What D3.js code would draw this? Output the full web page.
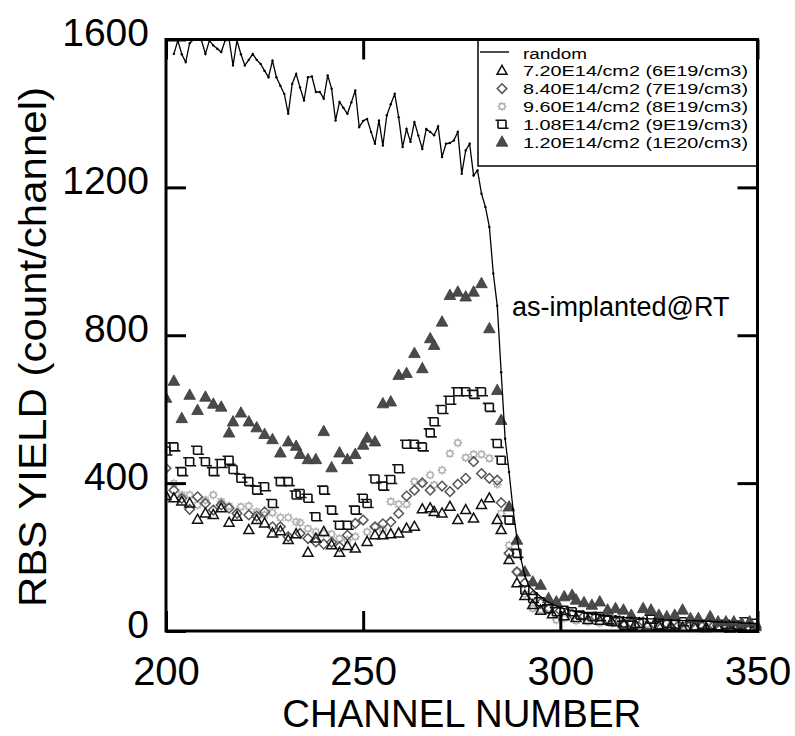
<!DOCTYPE html>
<html>
<head>
<meta charset="utf-8">
<script src="https://cdn.jsdelivr.net/npm/d3@7"></script>
<style>
  body { margin: 0; background: #fff; }
  svg { display: block; font-family: "Liberation Sans", Arial, sans-serif; }
</style>
</head>
<body>
<svg id="chart" width="795" height="736"></svg>
<script>
// ---- RBS spectra: yield (count/channel) vs channel number ----

// random (non-channeled) spectrum
const randomCh = [
  202,203,204,205,206,207,208,209,210,211,212,213,214,215,216,217,218,219,220,221,
  222,223,224,225,226,227,228,229,230,231,232,233,234,235,236,237,238,239,240,241,
  242,243,244,245,246,247,248,249,250,251,252,253,254,255,256,257,258,259,260,261,
  262,263,264,265,266,267,268,269,270,271,272,273,274,275,276,277,278,279,280,281,
  282,283,284,285,286,287,288,289,290,291,292,294,296,298,300,302,304,306,308,310,
  312,314,316,318,320,322,324,326,328,330,332,334,336,338,340,342,344,346,348,350
];
const randomVal = [
  1561,1597,1560,1539,1590,1600,1600,1598,1561,1597,1584,1575,1566,1597,1600,1530,1597,1560,1530,1545,
  1561,1545,1534,1515,1498,1543,1498,1475,1453,1399,1480,1507,1470,1435,1498,1500,1458,1458,1440,1503,
  1467,1381,1431,1415,1399,1430,1462,1363,1380,1385,1350,1318,1381,1313,1395,1425,1453,1390,1309,1358,
  1323,1377,1340,1304,1358,1350,1341,1365,1282,1318,1320,1327,1350,1237,1300,1318,1232,1246,1183,1147,
  1093,967,880,700,520,430,330,250,195,150,122,102,84,72,63,58,52,50,46,44,
  41,40,37,36,35,33,33,31,30,29,28,28,27,26,25,24,24,22,21,20
];

// 7.20E14/cm2 (6E19/cm3)
const s1Ch = [200,202,204,206,208,210,212,214,216,218,221,223,225,227,229,231,233,236,238,240,
  242,244,246,248,251,253,255,257,259,261,263,265,267,268,270,272,274,276,278,280,
  282,284,285,287,289,291,293,295,298,301,304,307,310,313,316,319,322,325,328,331,
  334,337,340,343,346,349];
const s1Val = [365,359,350,345,301,318,314,332,293,309,273,300,291,264,270,246,262,212,250,268,
  232,212,230,223,241,259,259,262,264,277,282,329,332,322,318,336,300,327,304,341,
  359,300,273,192,129,95,70,55,45,40,35,30,28,25,20,18,15,14,12,10,
  12,8,10,7,8,6];

// 8.40E14/cm2 (7E19/cm3)
const s2Ch = [200,202,204,206,208,210,212,214,216,218,221,223,225,227,229,231,234,236,238,240,
  242,244,246,248,250,253,255,257,259,261,263,265,267,270,272,274,276,278,280,282,
  284,285,287,289,291,293,295,297,300,303,306,309,312,315,318,321,324,327,330,333,
  336,339,342,345,348];
const s2Val = [440,381,359,329,363,345,327,341,332,318,314,311,322,282,282,255,264,250,241,235,
  240,228,259,291,300,282,290,295,318,365,381,401,381,392,377,397,413,458,426,413,
  408,347,210,160,130,95,75,60,55,45,40,38,32,28,22,25,18,20,15,18,
  12,15,10,12,8];

// 9.60E14/cm2 (8E19/cm3)
const s3Ch = [200,202,204,206,208,210,212,214,216,219,221,223,225,227,229,231,233,234,236,238,
  240,242,244,246,248,251,253,255,257,259,261,263,265,267,268,270,272,274,276,278,
  280,282,284,285,287,289,291,293,295,297,299,301,304,307,310,313,316,319,322,325,
  328,331,334,337,340,343,346,349];
const s3Val = [363,399,368,368,341,354,368,350,338,336,338,322,314,320,307,307,295,293,277,268,
  264,262,250,246,255,268,282,275,350,343,343,404,399,422,395,435,480,509,469,478,
  478,467,397,318,232,160,100,61,57,61,30,35,28,25,22,20,18,15,18,14,
  12,15,10,12,9,10,8,10];

// 1.08E14/cm2 (9E19/cm3)
const s4Ch = [200,202,204,206,208,210,212,214,216,217,219,221,223,225,227,229,231,233,234,236,
  238,240,242,244,246,248,250,251,253,255,257,259,261,263,265,267,268,270,272,274,
  276,278,280,282,284,285,287,289,291,293,295,297,299,301,303,305,308,310,312,314,
  316,318,320,323,325,327,329,331,334,336,338,340,342,345,347,349];
const s4Val = [487,498,431,458,489,458,431,453,462,437,413,404,381,390,345,404,404,368,372,359,
  309,381,327,286,286,327,359,345,411,392,410,439,505,505,498,536,566,599,624,647,
  647,640,647,605,507,462,300,210,111,88,79,60,52,56,52,43,39,39,30,25,
  16,16,21,32,16,20,18,25,12,18,16,14,18,16,25,21];

// 1.20E14/cm2 (1E20/cm3)
const s5Ch = [200,202,204,206,208,210,212,214,216,217,219,221,223,225,227,229,231,233,234,236,
  238,240,242,244,246,248,250,251,253,255,257,259,261,263,265,267,268,270,272,274,
  276,278,280,282,284,285,287,289,291,293,295,297,299,301,303,304,306,308,310,312,
  314,316,318,321,323,325,327,329,331,333,335,338,340,342,344,346,348,350];
const s5Val = [630,676,575,638,597,633,614,606,536,566,590,566,550,532,518,482,512,500,478,464,
  464,540,442,482,464,478,503,522,512,615,620,692,697,751,710,791,773,836,908,917,
  904,917,940,818,651,570,336,246,160,133,124,88,79,93,97,84,77,70,79,57,
  61,57,43,61,57,43,39,43,57,34,34,39,25,25,25,21,25,12];

const xTicks = [200, 250, 300, 350];
const yTicks = [0, 400, 800, 1200, 1600];
const legendLabels = [
  "random",
  "7.20E14/cm2 (6E19/cm3)",
  "8.40E14/cm2 (7E19/cm3)",
  "9.60E14/cm2 (8E19/cm3)",
  "1.08E14/cm2 (9E19/cm3)",
  "1.20E14/cm2 (1E20/cm3)"
];
const xTitle = "CHANNEL NUMBER";
const yTitle = "RBS YIELD (count/channel)";
const note = "as-implanted@RT";

// ---- layout ----
const svg = d3.select("#chart");
const x = d3.scaleLinear().domain([200, 350]).range([166, 757.5]);
const y = d3.scaleLinear().domain([0, 1600]).range([631, 39.5]);
const [x0, x1] = x.range();
const [y0, y1] = y.range();

// ---- marker shapes ----
const shapes = {
  triOpen:  "M0,-5.5L5,3.5L-5,3.5Z",
  diamond:  "M0,-4.8L4.8,0L0,4.8L-4.8,0Z",
  cog: (() => {
    const pts = d3.range(16).map(i => {
      const a = i * Math.PI / 8, r = i % 2 ? 2.6 : 3.8;
      return [r * Math.sin(a), -r * Math.cos(a)];
    });
    return "M" + pts.map(p => p.join(",")).join("L") + "Z";
  })(),
  tailSquare: "M-6.5,-4H4M-4,-4V4M4,-4V4M-4,4H6.5",
  triFilled: "M0,-6.2L5.8,4.2L-5.8,4.2Z"
};
const styles = {
  triOpen:    { fill: "none", stroke: "#111", sw: 1.5 },
  diamond:    { fill: "none", stroke: "#555", sw: 1.5 },
  cog:        { fill: "none", stroke: "#b3b3b3", sw: 1.4 },
  tailSquare: { fill: "none", stroke: "#111", sw: 1.6 },
  triFilled:  { fill: "#4a4a4a", stroke: "#3a3a3a", sw: 0.8 }
};

// ---- clip to plot area ----
svg.append("defs").append("clipPath").attr("id", "plot")
  .append("rect").attr("x", x0).attr("y", y1 - 2)
  .attr("width", x1 - x0 + 4).attr("height", y0 - y1 + 4);

const plot = svg.append("g").attr("clip-path", "url(#plot)");

function drawSeries(ch, val, shape) {
  const st = styles[shape];
  plot.append("g").selectAll("path")
    .data(ch.map((c, i) => [c, val[i]]))
    .join("path")
    .attr("transform", d => `translate(${x(d[0])},${y(d[1])})`)
    .attr("d", shapes[shape])
    .attr("fill", st.fill)
    .attr("stroke", st.stroke)
    .attr("stroke-width", st.sw)
    .attr("stroke-linejoin", "miter");
}

drawSeries(s3Ch, s3Val, "cog");
drawSeries(s2Ch, s2Val, "diamond");
drawSeries(s1Ch, s1Val, "triOpen");
drawSeries(s4Ch, s4Val, "tailSquare");
drawSeries(s5Ch, s5Val, "triFilled");

// random spectrum: thin line with small point marks
const randomPts = randomCh.map((c, i) => [c, randomVal[i]]);
plot.append("path")
  .datum(randomPts)
  .attr("fill", "none")
  .attr("stroke", "#000")
  .attr("stroke-width", 1.3)
  .attr("d", d3.line().x(d => x(d[0])).y(d => y(d[1])));
plot.append("g").selectAll("circle")
  .data(randomPts)
  .join("circle")
  .attr("cx", d => x(d[0])).attr("cy", d => y(d[1]))
  .attr("r", 1.2).attr("fill", "#000");

// ---- axes (ticks point inward on all four sides) ----
const tickLen = 20;
const fmt = d3.format("d");
function styleAxis(g) {
  g.select(".domain").remove();
  g.selectAll(".tick line").attr("stroke", "#000").attr("stroke-width", 3);
}

svg.append("g")
  .attr("transform", `translate(0,${y0})`)
  .call(d3.axisBottom(x).tickValues(xTicks).tickFormat(fmt).tickSize(-tickLen).tickSizeOuter(0))
  .call(styleAxis)
  .call(g => g.selectAll("text")
    .attr("font-family", "Liberation Sans, Arial, sans-serif")
    .attr("font-size", 40).attr("fill", "#000")
    .attr("y", 54).attr("dy", 0));

svg.append("g")
  .attr("transform", `translate(${x0},0)`)
  .call(d3.axisLeft(y).tickValues(yTicks).tickFormat(fmt).tickSize(-tickLen).tickSizeOuter(0))
  .call(styleAxis)
  .call(g => g.selectAll("text")
    .attr("font-family", "Liberation Sans, Arial, sans-serif")
    .attr("font-size", 39).attr("fill", "#000")
    .attr("x", -17).attr("dy", 6));

svg.append("g")
  .attr("transform", `translate(0,${y1})`)
  .call(d3.axisTop(x).tickValues(xTicks).tickSize(-tickLen).tickFormat(""))
  .call(styleAxis);

svg.append("g")
  .attr("transform", `translate(${x1},0)`)
  .call(d3.axisRight(y).tickValues(yTicks).tickSize(-tickLen).tickFormat(""))
  .call(styleAxis);

// ---- legend ----
const lg = svg.append("g");
lg.append("rect")
  .attr("x", 478).attr("y", y1).attr("width", x1 - 478).attr("height", 166 - y1)
  .attr("fill", "#fff").attr("stroke", "#000").attr("stroke-width", 1.5);

const legendShapes = [null, "triOpen", "diamond", "cog", "tailSquare", "triFilled"];
const rowBase = 58.5, rowStep = 17.8;
const legendFont = 15.4;
let stretch = 1;
legendLabels.forEach((lab, i) => {
  const base = rowBase + i * rowStep;
  const cy = base - 5.5;
  if (i === 0) {
    lg.append("line").attr("x1", 480).attr("x2", 509)
      .attr("y1", cy - 1).attr("y2", cy - 1)
      .attr("stroke", "#000").attr("stroke-width", 1.4);
  } else {
    const st = styles[legendShapes[i]];
    lg.append("path")
      .attr("transform", `translate(502,${cy})`)
      .attr("d", shapes[legendShapes[i]])
      .attr("fill", st.fill).attr("stroke", st.stroke).attr("stroke-width", st.sw);
  }
  const t = lg.append("text")
    .attr("x", 523).attr("y", base)
    .attr("font-size", legendFont).attr("fill", "#000")
    .text(lab);
  const w = t.node().getComputedTextLength();
  if (i === 1) stretch = 225 / w;
  if (i >= 1) t.attr("textLength", w * stretch).attr("lengthAdjust", "spacingAndGlyphs");
  else t.attr("textLength", 64).attr("lengthAdjust", "spacingAndGlyphs");
});

// frame drawn over everything
svg.append("rect")
  .attr("x", x0).attr("y", y1).attr("width", x1 - x0).attr("height", y0 - y1)
  .attr("fill", "none").attr("stroke", "#000").attr("stroke-width", 3);

// ---- annotation and titles ----
svg.append("text")
  .attr("x", 512).attr("y", 316)
  .attr("font-size", 27).attr("fill", "#000")
  .text(note);

svg.append("text")
  .attr("x", (x0 + x1) / 2).attr("y", 727)
  .attr("text-anchor", "middle")
  .attr("font-size", 38).attr("fill", "#000")
  .attr("textLength", 359).attr("lengthAdjust", "spacingAndGlyphs")
  .text(xTitle);

svg.append("text")
  .attr("transform", "translate(46,347) rotate(-90)")
  .attr("text-anchor", "middle")
  .attr("font-size", 38.5).attr("fill", "#000")
  .attr("textLength", 520).attr("lengthAdjust", "spacingAndGlyphs")
  .text(yTitle);
</script>
</body>
</html>
